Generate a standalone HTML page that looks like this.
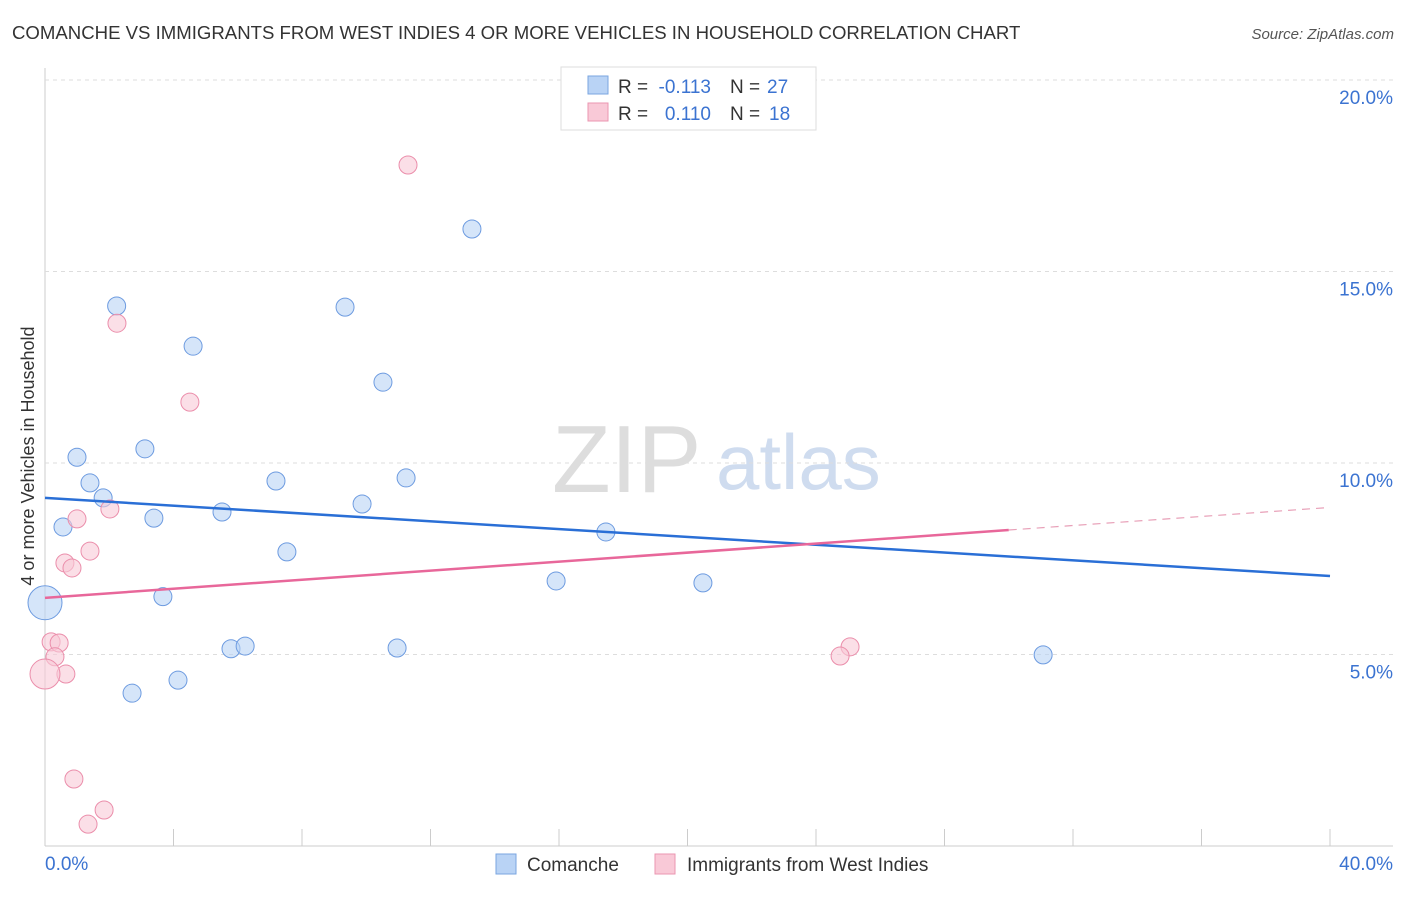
<!DOCTYPE html>
<html><head><meta charset="utf-8"><style>
body{margin:0;background:#fff;font-family:"Liberation Sans",sans-serif;}
svg text{font-family:"Liberation Sans",sans-serif;}
</style></head><body>
<svg id="c" width="1406" height="892">
<text x="12" y="39" font-size="18.6" fill="#333">COMANCHE VS IMMIGRANTS FROM WEST INDIES 4 OR MORE VEHICLES IN HOUSEHOLD CORRELATION CHART</text>
<text x="1394" y="39" font-size="15" fill="#555" font-style="italic" text-anchor="end">Source: ZipAtlas.com</text>
<text transform="translate(34,456) rotate(-90)" font-size="18" fill="#333" text-anchor="middle">4 or more Vehicles in Household</text>
<text x="552" y="492" font-size="96" fill="#ddd" font-family="Liberation Serif">ZIP</text>
<text x="716" y="489" font-size="78" fill="#cfdcef">atlas</text>
<g id="grid"></g><g id="marks"></g>
<g>
<rect x="561" y="67" width="255" height="63" fill="#fff" stroke="#ddd"/>
<rect x="588" y="76" width="20" height="18" fill="#b9d3f5" stroke="#7aa6e0"/>
<rect x="588" y="103" width="20" height="18" fill="#f9c9d7" stroke="#eb96b0"/>
<text x="618" y="93" font-size="19" fill="#333">R =</text>
<text x="711" y="93" font-size="19" fill="#3b73d1" text-anchor="end">-0.113</text>
<text x="730" y="93" font-size="19" fill="#333">N =</text>
<text x="767" y="93" font-size="19" fill="#3b73d1">27</text>
<text x="618" y="120" font-size="19" fill="#333">R =</text>
<text x="711" y="120" font-size="19" fill="#3b73d1" text-anchor="end">0.110</text>
<text x="730" y="120" font-size="19" fill="#333">N =</text>
<text x="769" y="120" font-size="19" fill="#3b73d1">18</text>
</g>
<g>
<rect x="496" y="854" width="20" height="20" fill="#b9d3f5" stroke="#7aa6e0"/>
<text x="527" y="871" font-size="19" fill="#333">Comanche</text>
<rect x="655" y="854" width="20" height="20" fill="#f9c9d7" stroke="#eb96b0"/>
<text x="687" y="871" font-size="19" fill="#333">Immigrants from West Indies</text>
</g>
</svg>
<script>
const yTicks=[5,10,15,20];
const yTickLabels=["5.0%","10.0%","15.0%","20.0%"];
const xTickLabels=["0.0%","40.0%"];
const blueX=[2.23,4.61,0.996,1.40,1.81,0.56,3.11,3.39,5.51,7.19,7.53,3.67,5.79,6.23,2.71,4.14,9.34,10.52,9.87,11.24,10.96,13.29,17.46,15.91,20.48,31.07,0];
const blueY=[14.1,13.05,10.15,9.48,9.09,8.33,10.37,8.56,8.72,9.53,7.68,6.51,5.15,5.22,3.99,4.33,14.07,12.11,8.93,9.61,5.17,16.11,8.2,6.92,6.87,4.99,6.35];
const pinkX=[11.3,2.24,4.51,2.02,0.996,1.40,0.62,0.84,0.19,0.44,0.31,0.65,0,0.90,1.84,1.34,25.06,24.75];
const pinkY=[17.78,13.65,11.59,8.80,8.54,7.70,7.39,7.26,5.33,5.30,4.94,4.49,4.49,1.75,0.94,0.57,5.2,4.96];
const blueSize=[9,9,9,9,9,9,9,9,9,9,9,9,9,9,9,9,9,9,9,9,9,9,9,9,9,9,17];
const pinkSize=[9,9,9,9,9,9,9,9,9,9,9,9,15,9,9,9,9,9];
const blueTrend=[9.09,-0.051];
const pinkTrend=[6.48,0.059];
const NS="http://www.w3.org/2000/svg";
const X=v=>45+v*32.125, Y=v=>846-v*38.3;
const grid=document.getElementById('grid'), marks=document.getElementById('marks');
function mk(p,tag,a){const e=document.createElementNS(NS,tag);for(const k in a)e.setAttribute(k,a[k]);p.appendChild(e);return e;}
let ax=mk(grid,'line',{x1:45,y1:68,x2:45,y2:846,stroke:'#ccc'});


let bx=mk(grid,'line',{x1:45,y1:846,x2:1393,y2:846,stroke:'#ccc'});


for(let i=0;i<=10;i++){let t=mk(grid,'line',{x1:X(i*4),y1:829,x2:X(i*4),y2:846,stroke:'#ccc'});

}
yTicks.forEach((v,i)=>{let g=mk(grid,'line',{x1:45,y1:Y(v),x2:1393,y2:Y(v),stroke:'#ddd','stroke-dasharray':'4,4'});


let t=mk(grid,'text',{x:1393,y:Y(v)+24,'font-size':19,fill:'#3b73d1','text-anchor':'end'});t.textContent=yTickLabels[i];

});
xTickLabels.forEach((s,i)=>{let t=mk(grid,'text',{x:i?1393:45,y:870,'font-size':19,fill:'#3b73d1','text-anchor':i?'end':'start'});t.textContent=s;

});
function pts(xs,ys,ss,fill,stroke,name){xs.forEach((x,i)=>{let c=mk(marks,'circle',{cx:X(x),cy:Y(ys[i]),r:ss[i],fill:fill,stroke:stroke,'stroke-width':1,'fill-opacity':0.6});

});}
pts(blueX,blueY,blueSize,'#b9d3f5','#6d9be0','comanche-point');
pts(pinkX,pinkY,pinkSize,'#f9c9d7','#eb8eab','west-indies-point');
let bl=mk(marks,'line',{x1:X(0),y1:Y(blueTrend[0]),x2:X(40),y2:Y(blueTrend[0]+blueTrend[1]*40),stroke:'#2a6fd6','stroke-width':2.5});


let pl=mk(marks,'line',{x1:X(0),y1:Y(pinkTrend[0]),x2:X(30),y2:Y(pinkTrend[0]+pinkTrend[1]*30),stroke:'#e8679a','stroke-width':2.5});


let pd=mk(marks,'line',{x1:X(30),y1:Y(pinkTrend[0]+pinkTrend[1]*30),x2:X(40),y2:Y(pinkTrend[0]+pinkTrend[1]*40),stroke:'#e8a0b8','stroke-width':1.2,'stroke-dasharray':'8,6'});


</script>
</body></html>
